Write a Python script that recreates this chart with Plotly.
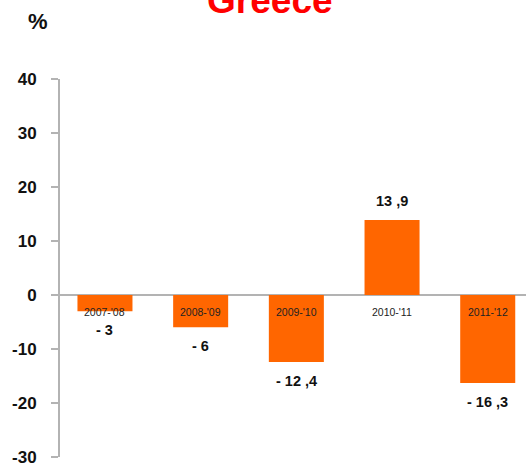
import plotly.graph_objects as go

categories = ["2007-'08", "2008-'09", "2009-'10", "2010-'11", "2011-'12"]
values = [-3, -6, -12.4, 13.9, -16.3]
value_labels = ["- 3", "- 6", "- 12 ,4", "13 ,9", "- 16 ,3"]
tick_vals = [-30, -20, -10, 0, 10, 20, 30, 40]
tick_text = ["-30", "-20", "-10", "0", "10", "20", "30", "40"]

x_idx = list(range(len(categories)))

fig = go.Figure()
fig.add_trace(go.Bar(
    x=x_idx, y=values, width=0.575,
    marker=dict(color="#FF6600", line=dict(width=0)),
    hoverinfo="skip",
))

annotations = []
for i, (c, v, lab) in enumerate(zip(categories, values, value_labels)):
    annotations.append(dict(
        x=i, y=0, xref="x", yref="y", text=c, showarrow=False,
        yanchor="middle", yshift=-17,
        font=dict(family="Liberation Sans, Arial", size=10.5, color="#222222"),
    ))
    annotations.append(dict(
        x=i, y=v, xref="x", yref="y", text="<b>" + lab + "</b>", showarrow=False,
        yanchor="middle", yshift=(19 if v > 0 else -19),
        font=dict(family="Liberation Sans, Arial", size=14.5, color="#111111"),
    ))

annotations.append(dict(
    x=-(60 - 38) / 466, y=1 + (79 - 21) / 381, xref="paper", yref="paper",
    text="<b>%</b>", showarrow=False, xanchor="center", yanchor="middle",
    font=dict(family="Liberation Sans, Arial", size=22, color="#111111"),
))

fig.update_layout(
    width=526, height=467,
    margin=dict(l=60, r=0, t=79, b=7),
    paper_bgcolor="white", plot_bgcolor="white",
    showlegend=False,
    annotations=annotations,
    title=dict(
        text="<b>Greece</b>", x=0.513, xanchor="center",
        y=1.0, yanchor="middle",
        font=dict(family="Liberation Sans, Arial", size=37, color="#FF0000"),
    ),
    xaxis=dict(
        range=[-0.47, 4.40], showticklabels=False, showgrid=False,
        zeroline=False, showline=False, ticks="",
    ),
    yaxis=dict(
        range=[-30.02, 40.0], tickvals=tick_vals, ticktext=tick_text,
        showgrid=False, zeroline=True, zerolinecolor="#B3B3B3", zerolinewidth=2,
        showline=True, linecolor="#B3B3B3", linewidth=2,
        ticks="outside", ticklen=7, tickwidth=2, tickcolor="#B3B3B3",
        ticklabelstandoff=11, ticklabeloverflow="allow",
        tickfont=dict(family="Liberation Sans, Arial", size=17, color="#111111", weight="bold"),
    ),
)

fig.write_html(
    "out.html",
    config={"displayModeBar": False},
    post_script="document.body.style.margin='0';document.body.style.padding='0';",
)
